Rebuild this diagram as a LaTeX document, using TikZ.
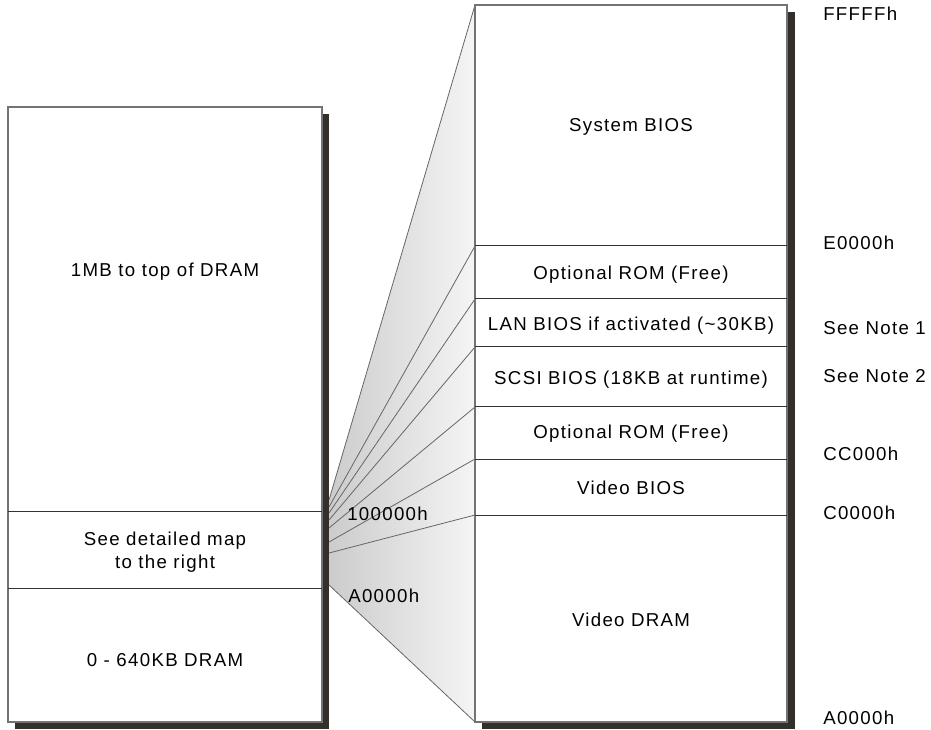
\documentclass[tikz,border=0pt]{standalone}
\usepackage{fontspec}
\setmainfont{Liberation Sans}[LetterSpace=7]
\usetikzlibrary{positioning, calc}
\definecolor{sombra}{RGB}{51, 48, 44}
\definecolor{borda}{RGB}{115, 115, 115}

\begin{document}
\begin{tikzpicture}[
                x=0.75pt, y=-0.75pt,
                mapbox/.style={draw=borda, line width=1.1pt, fill=white},
                shadowbox/.style={fill=sombra},
                divider/.style={draw=black!80, line width=0.75pt},
                fanline/.style={draw=black!60, line width=0.6pt},
                lbl/.style={font=\fontsize{14}{17.5}\selectfont, inner sep=0pt, align=center},
                addr/.style={lbl, anchor=west}
            ]
                \useasboundingbox (0,0) rectangle (931,730);

                % Leque entre os mapas
                \shade[left color=gray!40, right color=gray!8] (329,500) -- (475,5) -- (475,722) -- (329,585) -- cycle;
                \foreach \ly/\ry [count=\i] in {500/5, 507/246, 513/299, 520/347, 528/407, 542/459, 553/515, 585/722} {
                    \coordinate (fanL\i) at (329,\ly);
                    \coordinate (fanR\i) at (475,\ry);
                    \draw[fanline] (fanL\i) -- (fanR\i);
                }

                % Mapa geral
                \fill[shadowbox] (15,114) rectangle (329,729);
                \draw[mapbox] (8,107) rectangle (322,722);
                \draw[divider] (8,511) -- (322,511);
                \draw[divider] (8,588) -- (322,588);
                \node[lbl] (topdram) at (165,272) {1MB to top of DRAM};
                \node[lbl] (detail) at (165,552) {See detailed map\\to the right};
                \node[lbl] (lowdram) at (165,660) {0 - 640KB DRAM};

                % Mapa detalhado
                \fill[shadowbox] (482,12) rectangle (795,729);
                \draw[mapbox] (475,5) rectangle (787,722);
                \foreach \y in {246, 299, 347, 407, 459, 515}
                    \draw[divider] (475,\y) -- (787,\y);
                \node[lbl] (sysbios) at (631,127) {System BIOS};
                \node[lbl] (optrom1) at (631,275) {Optional ROM (Free)};
                \node[lbl] (lanbios) at (631,326) {LAN BIOS if activated (\textasciitilde30KB)};
                \node[lbl] (scsibios) at (631,380) {SCSI BIOS (18KB at runtime)};
                \node[lbl] (optrom2) at (631,434) {Optional ROM (Free)};
                \node[lbl] (vidbios) at (631,488) {Video BIOS};
                \node[lbl] (viddram) at (631,620) {Video DRAM};

                % Enderecos
                \node[addr] (a100000) at (347,514) {100000h};
                \node[addr] (aA0000l) at (348,596) {A0000h};
                \node[addr] (aFFFFF) at (823,14) {FFFFFh};
                \node[addr] (aE0000) at (823,243) {E0000h};
                \node[addr] (note1) at (823,328) {See Note 1};
                \node[addr] (note2) at (823,376) {See Note 2};
                \node[addr] (aCC000) at (823,454) {CC000h};
                \node[addr] (aC0000) at (823,513) {C0000h};
                \node[addr] (aA0000r) at (823,718) {A0000h};
            \end{tikzpicture}
\end{document}
